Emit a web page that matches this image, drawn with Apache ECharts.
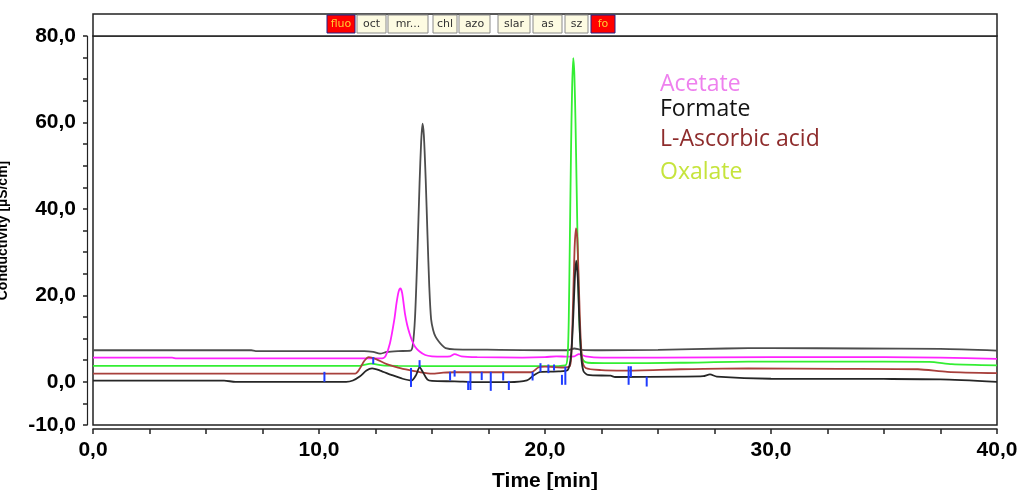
<!DOCTYPE html>
<html>
<head>
<meta charset="utf-8">
<script src="https://cdn.jsdelivr.net/npm/echarts@6/dist/echarts.min.js"></script>
<style>html,body{margin:0;padding:0;background:#fff}#c{width:1019px;height:490px}</style>
</head>
<body>
<div id="c"></div>
<script>
// ---- data (time [min], signal) ----
const xTickLabels = [0, 10, 20, 30, 40];
const yTickLabels = [-10, 0, 20, 40, 60, 80];
const seriesNames = ['Formate', 'Acetate', 'Oxalate', 'L-Ascorbic acid', 'Blank'];
const legendNames = ['Acetate', 'Formate', 'L-Ascorbic acid', 'Oxalate'];
const tabLabels = ['fluo', 'oct', 'mr...', 'chl', 'azo', 'slar', 'as', 'sz', 'fo'];

const formate = [[0,7.3],[7,7.3],[7.2,7.1],[12,7.1],[12.4,6.9],[12.7,6.5],[13.0,6.9],[13.5,7.1],[14.05,7.2],[14.15,8.5],[14.25,15],[14.35,29],[14.45,46],[14.52,55.5],[14.58,59.7],[14.64,57],[14.72,47],[14.8,34],[14.88,22],[14.96,14.5],[15.05,12],[15.15,10.5],[15.3,9.3],[15.45,8.4],[15.6,7.8],[16,7.5],[18,7.4],[20,7.3],[21.0,7.3],[21.3,7.7],[21.6,7.4],[22.5,7.3],[25,7.4],[28,7.7],[30,7.8],[34,7.7],[37.5,7.6],[40,7.2]];
const acetate = [[0,5.6],[3.5,5.6],[3.7,5.4],[12.8,5.4],[12.95,6.0],[13.14,8.9],[13.33,14.3],[13.43,18.2],[13.52,20.8],[13.6,21.6],[13.68,20.5],[13.8,15.9],[13.9,13.2],[14.0,11.3],[14.12,9.5],[14.25,8.1],[14.45,7.0],[14.7,6.2],[15.0,5.9],[15.5,5.8],[15.8,5.9],[16.0,6.4],[16.3,5.9],[17,5.7],[19,5.6],[20,5.7],[20.5,5.9],[21.0,5.8],[21.3,5.9],[21.5,6.4],[21.8,5.9],[22.5,5.6],[25,5.6],[30,5.7],[35,5.7],[37.5,5.6],[40,5.3]];
const oxalate = [[0,3.7],[11.8,3.7],[12.3,4.2],[12.8,3.8],[13.5,3.7],[16,3.6],[20,3.6],[20.9,3.8],[21.0,6],[21.05,14],[21.1,33],[21.15,53],[21.2,68],[21.25,74.9],[21.3,71],[21.35,60],[21.4,45],[21.45,30],[21.5,18],[21.55,10.5],[21.62,6.2],[21.7,4.9],[21.9,4.4],[23,4.3],[26,4.4],[29,4.65],[33,4.65],[37,4.6],[38,4.1],[40,3.8]];
const ascorbic = [[0,1.9],[11.6,1.9],[11.8,3.0],[12.0,4.8],[12.2,5.7],[12.5,5.3],[13.0,4.1],[13.5,3.3],[14.0,2.7],[14.5,2.2],[15.0,1.9],[15.5,2.1],[16,2.2],[19.4,2.2],[19.7,3.3],[20,3.5],[20.8,3.3],[21.1,3.6],[21.18,8],[21.25,20],[21.31,31],[21.37,35.5],[21.43,33],[21.5,22],[21.57,11],[21.65,5],[21.8,3.2],[22.5,2.7],[23.5,2.6],[26,2.9],[29,3.1],[33,3.0],[36.5,2.9],[37.8,2.3],[40,2.0]];
const blank = [[0,0.25],[5.8,0.25],[6.3,0],[11.2,0],[11.5,0.3],[11.8,1.2],[12.1,2.6],[12.35,3.1],[12.7,2.6],[13.2,1.6],[13.7,0.7],[14.1,0.3],[14.3,1.6],[14.45,3.4],[14.6,2.2],[14.8,0.5],[15.0,0.2],[16,0.1],[17,-0.1],[18.4,-0.1],[19.2,0.3],[19.5,1.5],[19.8,2.3],[20.6,2.4],[21.0,2.7],[21.15,6],[21.25,15],[21.32,24],[21.38,28],[21.45,24],[21.52,14],[21.6,6],[21.7,2.5],[21.9,1.6],[22.9,1.4],[23.1,1.1],[26,1.2],[27.0,1.3],[27.3,1.7],[27.6,1.2],[30,0.7],[35,0.65],[37.5,0.55],[40,0]];
// integration markers: [time, low, high]
const markers = [[10.24,0,2.3],[12.4,4.1,5.7],[14.07,-1.2,3.2],[14.45,3.4,5.0],[15.8,0.3,2.3],[16.0,1.2,2.7],[16.6,-1.9,0.2],[16.7,-1.9,2.3],[17.2,0.4,2.3],[17.6,-2.1,2.3],[18.15,0.3,2.3],[18.4,-1.9,0.2],[19.45,0.3,2.3],[19.8,2.3,4.3],[20.15,2.0,4.0],[20.4,2.6,4.0],[20.75,-0.7,1.6],[20.9,-0.7,3.5],[23.7,-0.7,3.6],[23.8,1.1,3.6],[24.5,-1.1,1.2]];

const seriesData = [formate, acetate, oxalate, ascorbic, blank];
const lineColors = ['#4d4d4d', '#ff22ff', '#33ee33', '#a8403c', '#262626'];
const legendColors = ['#ee80ee', '#141414', '#8e2c2c', '#c6e43c'];

const chart = echarts.init(document.getElementById('c'), null, {renderer: 'canvas'});

const lineSeries = seriesData.map((d, i) => ({
  name: seriesNames[i],
  type: 'line',
  data: d,
  showSymbol: false,
  symbol: 'none',
  smooth: 0.25,
  lineStyle: {color: lineColors[i], width: 1.8},
  z: 3 + i
}));

const markerSeries = {
  type: 'custom',
  name: 'markers',
  data: markers,
  z: 10,
  renderItem: function (params, api) {
    const p1 = api.coord([api.value(0), api.value(1)]);
    const p2 = api.coord([api.value(0), api.value(2)]);
    return {type: 'line', shape: {x1: p1[0], y1: p1[1], x2: p2[0], y2: p2[1]},
      style: {stroke: '#1f3cff', lineWidth: 2}};
  }
};

// tabs in header strip
const tabBoxes = [[327,355],[357,386],[388,428],[433,457],[459,490],[498,530],[533,562],[565,588],[591,615]];
const tabGraphics = tabLabels.map((t, i) => {
  const red = (t === 'fluo' || t === 'fo');
  const b = tabBoxes[i];
  return {
    type: 'group',
    children: [
      {type: 'rect', shape: {x: b[0], y: 15, width: b[1]-b[0], height: 18},
        style: {fill: red ? '#ff0000' : '#fdfbe2', stroke: red ? '#22228a' : '#8a8a8a', lineWidth: 1}},
      {type: 'text', x: (b[0]+b[1])/2, y: 24,
        style: {text: t, fill: red ? '#ffcc33' : '#333', font: '11px "DejaVu Sans"', align: 'center', verticalAlign: 'middle'}}
    ]
  };
});

const legendY = [84, 109, 139, 172];
const legendGraphics = legendNames.map((n, i) => ({
  type: 'text', x: 660, y: legendY[i],
  style: {text: n, fill: legendColors[i], font: '23px "Open Sans"', align: 'left', verticalAlign: 'middle'}
}));

const axisFont = {fontFamily: '"Liberation Sans", Arial, sans-serif', fontWeight: 'bold', fontSize: 21, color: '#000'};

chart.setOption({
  animation: false,
  backgroundColor: '#fff',
  grid: {left: 93, right: 22, top: 36, bottom: 65, show: true, borderColor: '#222', borderWidth: 1.5, backgroundColor: 'transparent', containLabel: false, outerBoundsMode: 'none'},
  xAxis: {
    type: 'value', min: 0, max: 40, interval: 2.5, offset: 4,
    name: 'Time [min]', nameLocation: 'middle', nameGap: 42,
    nameTextStyle: {fontFamily: '"Liberation Sans", Arial, sans-serif', fontWeight: 'bold', fontSize: 21, color: '#000'},
    axisLine: {show: true, onZero: false, lineStyle: {color: '#222', width: 1.5}},
    axisTick: {show: true, length: 5, lineStyle: {color: '#222', width: 1.5}},
    splitLine: {show: false},
    axisLabel: Object.assign({margin: 11, formatter: v => xTickLabels.includes(v) ? v.toFixed(1).replace('.', ',') : ''}, axisFont)
  },
  yAxis: {
    type: 'value', min: -10, max: 80, interval: 5, offset: 6,
    name: 'Conductivity [µS/cm]', nameLocation: 'middle', nameGap: 77, nameRotate: 90,
    nameTextStyle: {fontFamily: '"Liberation Sans", Arial, sans-serif', fontWeight: 'bold', fontSize: 14, color: '#000'},
    axisLine: {show: true, onZero: false, lineStyle: {color: '#222', width: 1.2}},
    axisTick: {show: true, length: 4, lineStyle: {color: '#222', width: 1.5}},
    splitLine: {show: false},
    axisLabel: Object.assign({margin: 11, formatter: v => yTickLabels.includes(v) ? v.toFixed(1).replace('.', ',') : ''}, axisFont)
  },
  series: lineSeries.concat([markerSeries]),
  graphic: [
    {type: 'rect', shape: {x: 93, y: 14, width: 904, height: 22}, style: {fill: '#fff', stroke: '#222', lineWidth: 1.5}, z: 0}
  ].concat(tabGraphics).concat(legendGraphics)
});
</script>
</body>
</html>
